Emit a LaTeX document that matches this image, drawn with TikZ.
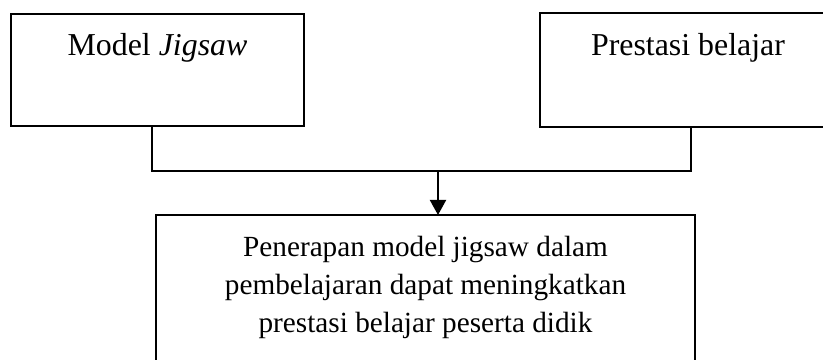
\documentclass[tikz,border=0pt]{standalone}
\usepackage{fontspec}
\setmainfont{Liberation Serif}
\usetikzlibrary{arrows.meta}
\begin{document}
\begin{tikzpicture}[x=0.4pt, y=-0.4pt, line width=0.8pt,
    box/.style={minimum height=44.8pt, inner sep=0pt},
    title/.style={anchor=base, inner sep=0pt, font=\fontsize{12.75}{15.2}\selectfont},
    arrow/.style={-{Triangle[width=6.4pt, length=6pt]}}]
    \useasboundingbox (0,0) rectangle (823,360);
    % kotak atas
    \node[box, draw, minimum width=117.2pt] (jigsaw) at (157.5,70) {};
    \node[box, minimum width=124.8pt] (prestasi) at (697,70) {};
    \node[title] (jigsawtext) at (157.5,55) {Model \textit{Jigsaw}};
    \node[title] (prestasitext) at (688,55) {Prestasi belajar};
    % kotak bawah
    \node[box, minimum width=214.8pt, minimum height=72pt] (hasil) at (425.5,306) {};
    \node[title, align=center, font=\fontsize{11.7}{15.2}\selectfont] (hasiltext) at (425.5,332)
        {Penerapan model jigsaw dalam\\pembelajaran dapat meningkatkan\\prestasi belajar peserta didik};
    % sisi kotak yang terpotong tepi gambar
    \draw (prestasi.north east) -- (prestasi.north west) -- (prestasi.south west) -- (prestasi.south east);
    \draw (hasil.south west) -- (hasil.north west) -- (hasil.north east) -- (hasil.south east);
    % garis penghubung
    \coordinate (kiri) at (152,171);
    \coordinate (kanan) at (691,171);
    \coordinate (tengah) at (438,171);
    \draw (jigsaw.south -| kiri) -- (kiri) -- (kanan) -- (prestasi.south -| kanan);
    \draw[arrow] (tengah) -- (hasil.north -| tengah);
\end{tikzpicture}
\end{document}
